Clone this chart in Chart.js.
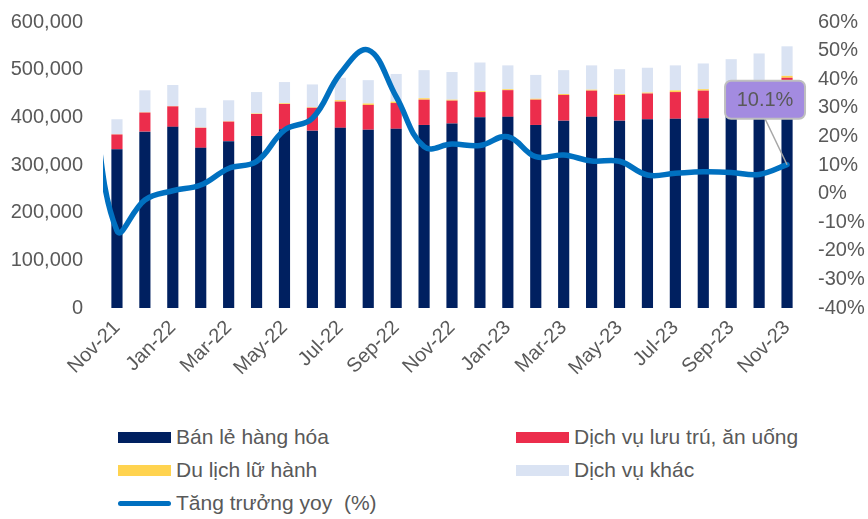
<!DOCTYPE html>
<html>
<head>
<meta charset="utf-8">
<script src="https://cdn.jsdelivr.net/npm/chart.js@4"></script>
<style>
  html, body { margin: 0; padding: 0; background: #fff; }
  body { width: 868px; height: 519px; position: relative; overflow: hidden; font-family: "Liberation Sans", Arial, sans-serif; }
  #wrap { position: absolute; left: 0; top: 0; width: 868px; height: 405px; }
  #legend { position: absolute; left: 118px; top: 425px; width: 740px; }
  .lg-item { position: absolute; display: flex; align-items: center; color: #595959; font-size: 21px; white-space: pre; }
  .lg-box { width: 53px; height: 11px; margin-right: 5px; }
  .lg-line { width: 53px; height: 5px; border-radius: 3px; margin-right: 5px; }
</style>
</head>
<body>
<div id="wrap"><canvas id="chart"></canvas></div>
<div id="legend"></div>
<script>
// Oct-21 is only there so the yoy line enters from the left edge like in the original
const months = ['Oct-21',
  'Nov-21', 'Dec-21', 'Jan-22', 'Feb-22', 'Mar-22', 'Apr-22', 'May-22', 'Jun-22', 'Jul-22',
  'Aug-22', 'Sep-22', 'Oct-22', 'Nov-22', 'Dec-22', 'Jan-23', 'Feb-23', 'Mar-23', 'Apr-23',
  'May-23', 'Jun-23', 'Jul-23', 'Aug-23', 'Sep-23', 'Oct-23', 'Nov-23'];

// ty dong
const banLe = [null,
  333000, 370000, 380000, 336000, 350000, 361000, 375000, 372000, 378000,
  374000, 376000, 384000, 387000, 400000, 401000, 384000, 393000, 401000,
  393000, 396000, 397000, 398000, 404000, 413000, 424000];
const luuTru = [null,
  31000, 40000, 43000, 42000, 41000, 46000, 53000, 48000, 55000,
  52000, 54000, 53000, 48000, 53000, 56000, 53000, 54000, 55000,
  54000, 54000, 56000, 58000, 57000, 58000, 59000];
const duLich = [null,
  500, 700, 800, 500, 800, 1000, 1500, 1200, 3000,
  3000, 3000, 3000, 2000, 2000, 2000, 2000, 2000, 2000,
  2000, 2000, 3500, 3000, 3500, 3700, 4000];
const dichVuKhac = [null,
  31500, 46000, 44000, 41500, 44000, 45000, 44500, 47800, 47000,
  49000, 58000, 59000, 58000, 60000, 50000, 50000, 50000, 51000,
  52000, 52000, 52500, 54000, 57500, 59300, 62000];
// %
const yoy = [45,
  -13.0, -2.2, 1.0, 3.0, 8.8, 11.2, 22.2, 26.3, 42.0,
  50.2, 33.9, 16.4, 17.3, 16.8, 19.9, 12.9, 13.5, 11.4,
  11.3, 6.5, 7.1, 7.6, 7.4, 6.7, 10.1];

const leftTicks = [0, 600000, 100000];
const rightTicks = [-40, 60, 10];

const GREY = '#595959';
const FONT = '"Liberation Sans", Arial, sans-serif';

const calloutPlugin = {
    id: 'callout',
    afterDatasetsDraw(chart) {
        const idx = chart.data.datasets.findIndex(d => d.type === 'line');
        const meta = chart.getDatasetMeta(idx);
        const pt = meta.data[meta.data.length - 1];
        const val = chart.data.datasets[idx].data[meta.data.length - 1];
        const ctx = chart.ctx;
        const cx = pt.x - 22, cy = pt.y - 65, w = 80, h = 38;
        ctx.save();
        // leader
        ctx.strokeStyle = '#a6a6a6';
        ctx.lineWidth = 1.5;
        ctx.beginPath();
        ctx.moveTo(cx, cy + h / 2);
        ctx.lineTo(pt.x, pt.y);
        ctx.stroke();
        // box
        ctx.beginPath();
        ctx.roundRect(cx - w / 2, cy - h / 2, w, h, 6);
        ctx.fillStyle = '#a38be0';
        ctx.fill();
        ctx.strokeStyle = '#bfbfbf';
        ctx.lineWidth = 2;
        ctx.stroke();
        ctx.fillStyle = GREY;
        ctx.font = '20px ' + FONT;
        ctx.textAlign = 'center';
        ctx.textBaseline = 'middle';
        ctx.fillText(val.toFixed(1) + '%', cx, cy + 1);
        ctx.restore();
    }
};

function barSet(label, data, color) {
    return {
        type: 'bar',
        label: label,
        data: data,
        backgroundColor: color,
        yAxisID: 'y',
        order: 1,
        barPercentage: 0.8,
        categoryPercentage: 0.5
    };
}

// keep the tick-label padding from pushing the plot area down
function fixVertical(width) {
    return s => {
        s.width = width;
        s.paddingTop = 0;
        s.paddingBottom = 0;
    };
}

const chart = new Chart(document.getElementById('chart').getContext('2d'), {
    data: {
        labels: months,
        datasets: [
            barSet('Bán lẻ hàng hóa', banLe, '#002060'),
            barSet('Dịch vụ lưu trú, ăn uống', luuTru, '#ec2d4c'),
            barSet('Du lịch lữ hành', duLich, '#ffd34f'),
            barSet('Dịch vụ khác', dichVuKhac, '#dae3f3'),
            {
                type: 'line',
                label: 'Tăng trưởng yoy  (%)',
                data: yoy,
                borderColor: '#0070c0',
                backgroundColor: '#0070c0',
                borderWidth: 5.5,
                borderCapStyle: 'round',
                pointRadius: 0,
                tension: 0.4,
                yAxisID: 'y1',
                order: 0,
                clip: { left: 0, top: 20, right: 20, bottom: 20 }
            }
        ]
    },
    options: {
        responsive: true,
        maintainAspectRatio: false,
        animation: false,
        layout: { padding: { top: 22, left: 0, right: 0, bottom: 0 } },
        plugins: {
            legend: { display: false },
            tooltip: { enabled: false }
        },
        scales: {
            x: {
                stacked: true,
                min: 'Nov-21',
                grid: { display: false, drawTicks: false },
                border: { display: false },
                afterFit: s => { s.height = 97; },
                ticks: {
                    autoSkip: false,
                    maxRotation: 45,
                    minRotation: 45,
                    padding: 8,
                    color: GREY,
                    font: { family: FONT, size: 20 },
                    callback: function(value) {
                        return (value - 1) % 2 === 0 ? this.getLabelForValue(value) : '';
                    }
                }
            },
            y: {
                stacked: true,
                position: 'left',
                min: leftTicks[0],
                max: leftTicks[1],
                grid: { display: false, drawTicks: false },
                border: { display: false },
                afterFit: fixVertical(103),
                ticks: {
                    stepSize: leftTicks[2],
                    padding: 20,
                    color: GREY,
                    font: { family: FONT, size: 20 },
                    callback: v => v.toLocaleString('en-US')
                }
            },
            y1: {
                position: 'right',
                min: rightTicks[0],
                max: rightTicks[1],
                grid: { display: false, drawTicks: false },
                border: { display: false },
                afterFit: fixVertical(67),
                ticks: {
                    stepSize: rightTicks[2],
                    padding: 17,
                    color: GREY,
                    font: { family: FONT, size: 20 },
                    callback: v => v + '%'
                }
            }
        }
    },
    plugins: [calloutPlugin]
});

// two-column legend like the original
const legendPos = [[0, 0], [398, 0], [0, 33], [398, 33], [0, 66]];
const legendEl = document.getElementById('legend');
chart.data.datasets.forEach((ds, i) => {
    const item = document.createElement('div');
    item.className = 'lg-item';
    item.style.left = legendPos[i][0] + 'px';
    item.style.top = legendPos[i][1] + 'px';
    const mark = document.createElement('span');
    mark.className = ds.type === 'line' ? 'lg-line' : 'lg-box';
    mark.style.background = ds.type === 'line' ? ds.borderColor : ds.backgroundColor;
    item.appendChild(mark);
    item.appendChild(document.createTextNode(ds.label));
    legendEl.appendChild(item);
});
</script>
</body>
</html>
